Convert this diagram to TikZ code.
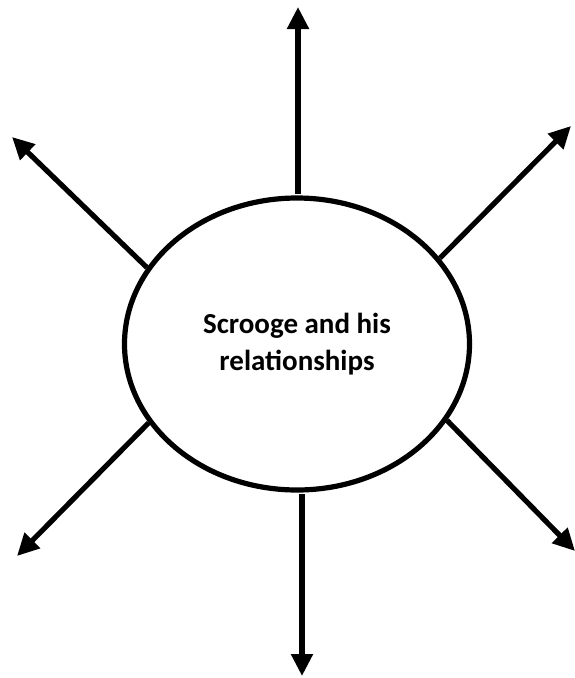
\documentclass[tikz,border=0pt]{standalone}
\usepackage{fontspec}
\setmainfont{Carlito}
\usetikzlibrary{arrows.meta,shapes.geometric}
\begin{document}
\begin{tikzpicture}[x=1pt,y=-1pt,
  arr/.style={line width=5.2pt,-{Triangle[width=21pt,length=22pt]}},
  bubble/.style={ellipse,draw,line width=5.2pt,fill=white,inner sep=0pt,
    minimum width=345pt,minimum height=292pt,align=center,
    font=\bfseries\fontsize{29}{37}\selectfont}]
\useasboundingbox (0,0) rectangle (575,678);
\coordinate (tTop) at (298,7);
\coordinate (tBot) at (302,676);
\coordinate (tUL) at (12,137);
\coordinate (tUR) at (571,126);
\coordinate (tLL) at (17,556);
\coordinate (tLR) at (575,551);
\draw[arr] (tTop |- 298,194) -- (tTop);
\draw[arr] (tBot |- 302,494) -- (tBot);
\node[bubble] (c) at (297,344) {Scrooge and his\\relationships};
\draw[arr] (c.153.7) -- (tUL);
\draw[arr] (c.31.4) -- (tUR);
\draw[arr] (c.208.5) -- (tLL);
\draw[arr] (c.333.1) -- (tLR);
\end{tikzpicture}
\end{document}
